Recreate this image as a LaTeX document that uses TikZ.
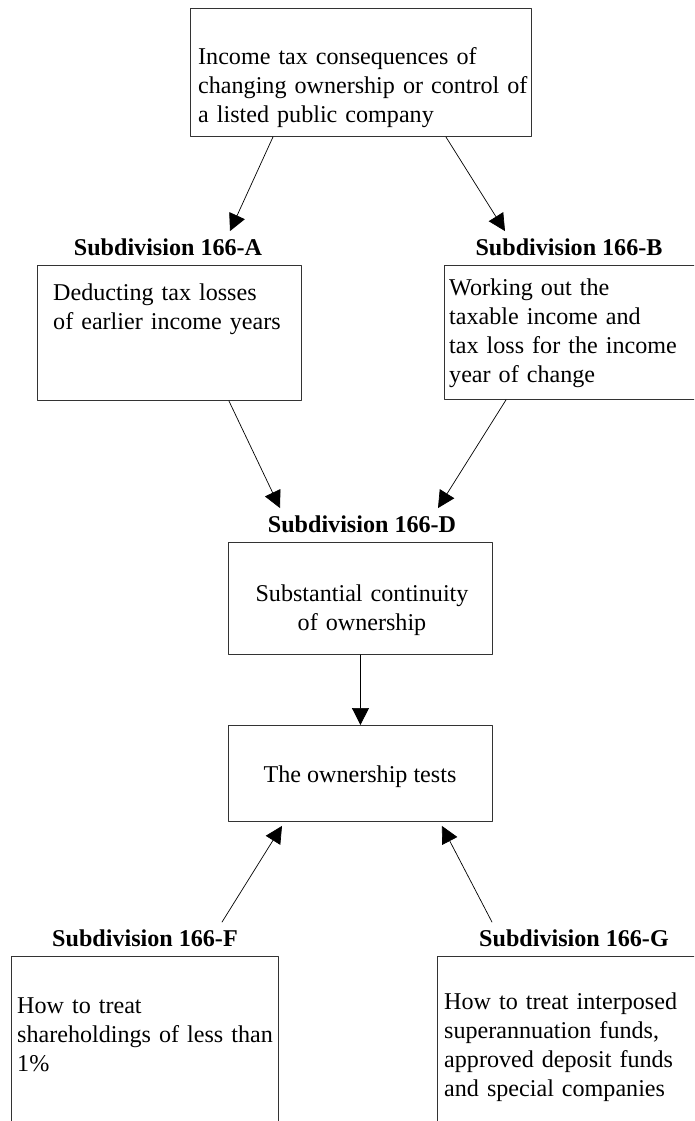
\documentclass[tikz,border=0pt]{standalone}
\usepackage{fontspec}
\setmainfont{Liberation Serif}
\usetikzlibrary{arrows.meta,calc}

\newcommand{\diafont}{\fontsize{24.1}{29}\selectfont}
\tikzset{
	box/.style={draw=black!80, line width=0.9pt, inner sep=0pt, anchor=north west},
	txt/.style={inner sep=0pt, anchor=base west, text width=380pt, align=left},
	subhead/.style={inner sep=0pt, anchor=base, font=\diafont\bfseries},
	arr/.style={-{Triangle[length=17pt,width=17pt]}, line width=0.7pt},
}

\begin{document}
\begin{tikzpicture}[x=1pt,y=-1pt,line cap=round,line join=round,font=\diafont]
		\useasboundingbox (0,0) rectangle (694,1121);
		\clip (0,0) rectangle (694,1121);
		% boxes
		\node[box,minimum width=341pt,minimum height=128pt] (top) at (190,8) {};
		\node[box,minimum width=264pt,minimum height=135pt] (boxA) at (37,265) {};
		\node[box,minimum width=264pt,minimum height=134pt] (boxB) at (444,265) {};
		\node[box,minimum width=264pt,minimum height=112pt] (boxD) at (228,542) {};
		\node[box,minimum width=264pt,minimum height=96pt] (tests) at (228,725) {};
		\node[box,minimum width=267pt,minimum height=200pt] (boxF) at (11,956) {};
		\node[box,minimum width=270pt,minimum height=200pt] (boxG) at (437,956) {};
		% headings
		\node[subhead] (headA) at (168,255) {Subdivision 166-A};
		\node[subhead] (headB) at (569,255) {Subdivision 166-B};
		\node[subhead] (headD) at (362,532) {Subdivision 166-D};
		\node[subhead] (headF) at (145,946) {Subdivision 166-F};
		\node[subhead] (headG) at (574,946) {Subdivision 166-G};
		% texts
		\node[txt] (txtTop) at (198,65) {Income tax consequences of\\changing ownership or control of\\a listed public company};
		\node[txt] (txtA) at (53,300) {Deducting tax losses\\of earlier income years};
		\node[txt] (txtB) at (449,295) {Working out the\\taxable income and\\tax loss for the income\\year of change};
		\node[txt,text width=250pt,align=center,anchor=base] (txtD) at (362,601) {Substantial continuity\\of ownership};
		\node[inner sep=0pt,anchor=base] (txtTests) at (360,782) {The ownership tests};
		\node[txt] (txtF) at (17,1013) {How to treat\\shareholdings of less than\\1\%};
		\node[txt] (txtG) at (444,1009) {How to treat interposed\\superannuation funds,\\approved deposit funds\\and special companies};
		% arrows
		\draw[arr] ([xshift=83pt]top.south west) -- ([xshift=62pt,yshift=7pt]headA.north);
		\draw[arr] ([xshift=-86pt]top.south east) -- ([xshift=-64pt,yshift=7pt]headB.north);
		\draw[arr] ([xshift=-73pt]boxA.south east) -- ([xshift=-82pt,yshift=7pt]headD.north);
		\draw[arr] ([xshift=62pt]boxB.south west) -- ([xshift=76pt,yshift=7pt]headD.north);
		\draw[arr] (boxD.south) -- (tests.north);
		\draw[arr] ([xshift=77pt,yshift=7pt]headF.north) -- ([xshift=54pt,yshift=-4pt]tests.south west);
		\draw[arr] ([xshift=-82pt,yshift=7pt]headG.north) -- ([xshift=-51pt,yshift=-4pt]tests.south east);
\end{tikzpicture}
\end{document}
